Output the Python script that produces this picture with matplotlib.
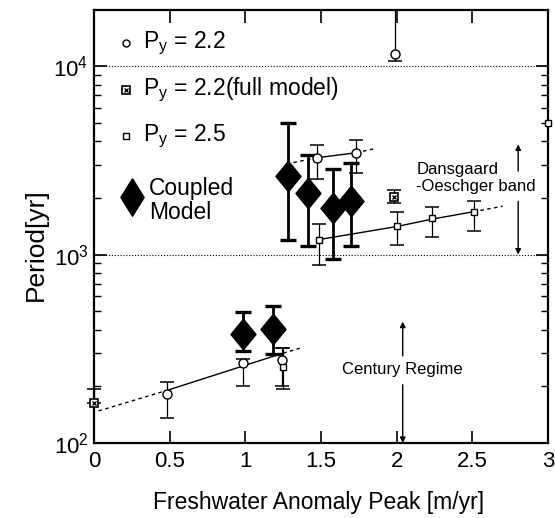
import matplotlib
matplotlib.use('Agg')
import matplotlib.pyplot as plt
import numpy as np

plt.rcParams['font.family'] = ['Liberation Sans', 'DejaVu Sans']
plt.rcParams['mathtext.fontset'] = 'custom'
plt.rcParams['mathtext.rm'] = 'Liberation Sans'
plt.rcParams['mathtext.it'] = 'Liberation Sans:italic'
plt.rcParams['mathtext.default'] = 'regular'

# ---------------- data ----------------
# P_y = 2.2 (open circles)
x22 = np.array([0.48, 0.985, 1.245, 1.475, 1.733, 1.987])
y22 = np.array([182, 265, 276, 3270, 3475, 11600])
y22_hi = np.array([212, 279, 320, 3800, 4040, 30000])
y22_lo = np.array([136, 200, 200, 2530, 2720, 10660])

# P_y = 2.2 (full model) (crossed squares)
xfm = np.array([0.0, 1.98])
yfm = np.array([163, 2024])
yfm_hi = np.array([194, 2200])
yfm_lo = np.array([163, 1885])

# P_y = 2.5 (small open squares)
x25 = np.array([1.25, 1.486, 2.0, 2.236, 2.508, 3.0])
y25 = np.array([253, 1202, 1416, 1567, 1687, 5015])
y25_hi = np.array([318, 1456, 1679, 1795, 1923, 5015])
y25_lo = np.array([193, 885, 1130, 1242, 1330, 5015])

# Coupled model (filled diamonds)
xcm = np.array([0.982, 1.181, 1.283, 1.413, 1.581, 1.695])
ycm = np.array([378, 404, 2610, 2128, 1771, 1922])
ycm_hi = np.array([495, 531, 4980, 3365, 2856, 3077])
ycm_lo = np.array([308, 298, 1201, 1117, 949, 1117])

# fitted lines (solid inside data range, dotted extrapolation)
fit22_lo_x = [0.03, 0.48, 1.25, 1.37]
fit22_lo_y = [148, 190, 300, 320]
fit22_hi_x = [1.318, 1.475, 1.733, 1.861]
fit22_hi_y = [3083, 3270, 3475, 3664]
fit25_x = [1.486, 2.0, 2.236, 2.508, 2.70]
fit25_y = [1202, 1410, 1545, 1690, 1807]

xticks = [0, 0.5, 1, 1.5, 2, 2.5, 3]
xticklabels = ['0', '0.5', '1', '1.5', '2', '2.5', '3']

# ---------------- figure ----------------
fig = plt.figure(figsize=(5.55, 5.18), dpi=100)
ax = fig.add_axes([94/555, 1-443/518, 454/555, 433/518])
ax.set_yscale('log')
ax.set_xlim(0, 3)
ax.set_ylim(100, 19900)

dot = (0, (1, 1.6))
ax.axhline(1e3, ls=dot, lw=0.8, color='k')
ax.axhline(1e4, ls=dot, lw=0.8, color='k')

# fit lines
def seg(xs, ys, i0, i1, ls):
    ax.plot(xs[i0:i1+1], ys[i0:i1+1], color='k', lw=1, ls=ls)

fa = (0, (2.5, 2.5))
seg(fit22_lo_x, fit22_lo_y, 0, 1, fa)
seg(fit22_lo_x, fit22_lo_y, 1, 2, '-')
seg(fit22_lo_x, fit22_lo_y, 2, 3, fa)
seg(fit22_hi_x, fit22_hi_y, 0, 1, fa)
seg(fit22_hi_x, fit22_hi_y, 1, 2, '-')
seg(fit22_hi_x, fit22_hi_y, 2, 3, fa)
seg(fit25_x, fit25_y, 0, 3, '-')
seg(fit25_x, fit25_y, 3, 4, fa)

# error bars
ax.errorbar(x22, y22, yerr=[y22 - y22_lo, y22_hi - y22], fmt='none',
            ecolor='k', elinewidth=0.9, capsize=5, capthick=1.1)
ax.errorbar(x25[:-1], y25[:-1], yerr=[y25[:-1] - y25_lo[:-1], y25_hi[:-1] - y25[:-1]],
            fmt='none', ecolor='k', elinewidth=0.9, capsize=5, capthick=1.1)
eb = ax.errorbar(xfm, yfm, yerr=[yfm - yfm_lo, yfm_hi - yfm], fmt='none',
                 ecolor='k', elinewidth=0.9, capsize=5, capthick=1.1)
for art in eb.lines[1] + eb.lines[2]:
    art.set_clip_on(False)
ax.errorbar(xcm, ycm, yerr=[ycm - ycm_lo, ycm_hi - ycm], fmt='none',
            ecolor='k', elinewidth=2.0, capsize=5.5, capthick=2.4)

# markers
diamond = [(0, 1), (0.82, 0), (0, -1), (-0.82, 0), (0, 1)]
ax.plot(x22, y22, ls='none', marker='o', ms=6.5, mfc='white', mec='k', mew=1, zorder=5)
ax.plot(x25, y25, ls='none', marker='s', ms=4, mfc='white', mec='k', mew=1,
        zorder=5, clip_on=False)
ax.plot(xfm, yfm, ls='none', marker='s', ms=6, mfc='white', mec='k', mew=1.2,
        zorder=5, clip_on=False)
ax.plot(xfm, yfm, ls='none', marker='x', ms=3.5, mec='k', mew=1,
        zorder=6, clip_on=False)
ax.plot(xcm, ycm, ls='none', marker=diamond, ms=22, mfc='k', mec='k', zorder=6)

# legend (manual)
tr = ax.transAxes
lx = (126 - 94) / 454
tx = (143 - 94) / 454
lfs = 16.5
ax.plot([lx], [0.9238], transform=tr, marker='o', ms=5, mfc='white', mec='k', mew=1)
ax.text(tx, 0.9238, 'P$_y$ = 2.2', transform=tr, fontsize=lfs, va='center', ha='left')
ax.plot([lx], [0.8152], transform=tr, marker='s', ms=5.5, mfc='white', mec='k', mew=1.2)
ax.plot([lx], [0.8152], transform=tr, marker='x', ms=3, mec='k', mew=1)
ax.text(tx, 0.8152, 'P$_y$ = 2.2(full model)', transform=tr, fontsize=lfs, va='center', ha='left')
ax.plot([lx], [0.709], transform=tr, marker='s', ms=4, mfc='white', mec='k', mew=1)
ax.text(tx, 0.709, 'P$_y$ = 2.5', transform=tr, fontsize=lfs, va='center', ha='left')
ax.plot([(132 - 94) / 454], [0.568], transform=tr, ls='none',
        marker=[(0, 1), (0.62, 0), (0, -1), (-0.62, 0), (0, 1)], ms=27, mfc='k', mec='k')
ax.text((149 - 94) / 454, 0.561, 'Coupled\nModel', transform=tr, fontsize=lfs,
        va='center', ha='left', linespacing=1.05)

# annotations
ax.text(2.13, 2550, 'Dansgaard\n-Oeschger band', fontsize=12, ha='left', va='center',
        linespacing=1.1)
ax.text(2.04, 245, 'Century Regime', fontsize=12, ha='center', va='center')
ap = dict(arrowstyle='-|>', lw=1, color='k', mutation_scale=8, shrinkA=0, shrinkB=0)
ax.annotate('', xy=(2.803, 3850), xytext=(2.803, 2775), arrowprops=ap)
ax.annotate('', xy=(2.803, 1000), xytext=(2.803, 1920), arrowprops=ap)
ax.annotate('', xy=(2.04, 441), xytext=(2.04, 290), arrowprops=ap)
ax.annotate('', xy=(2.04, 100), xytext=(2.04, 204), arrowprops=ap)

# axes styling
ax.set_xticks(xticks)
ax.set_xticklabels(xticklabels)
ax.tick_params(which='both', direction='in', top=True, right=True)
ax.tick_params(which='major', length=9, width=1.2, labelsize=16, pad=6)
ax.tick_params(which='minor', length=5, width=1)
ax.tick_params(axis='y', which='major', pad=4)
ax.yaxis.set_minor_formatter(matplotlib.ticker.NullFormatter())
for s in ax.spines.values():
    s.set_linewidth(1.6)

fig.text(36 / 555, 1 - 245 / 518, 'Period[yr]', rotation=90, fontsize=19,
         ha='center', va='center')
fig.text(319 / 555, 1 - 503 / 518, 'Freshwater Anomaly Peak [m/yr]', fontsize=16.5,
         ha='center', va='center')

fig.savefig('out.png', dpi=100)
